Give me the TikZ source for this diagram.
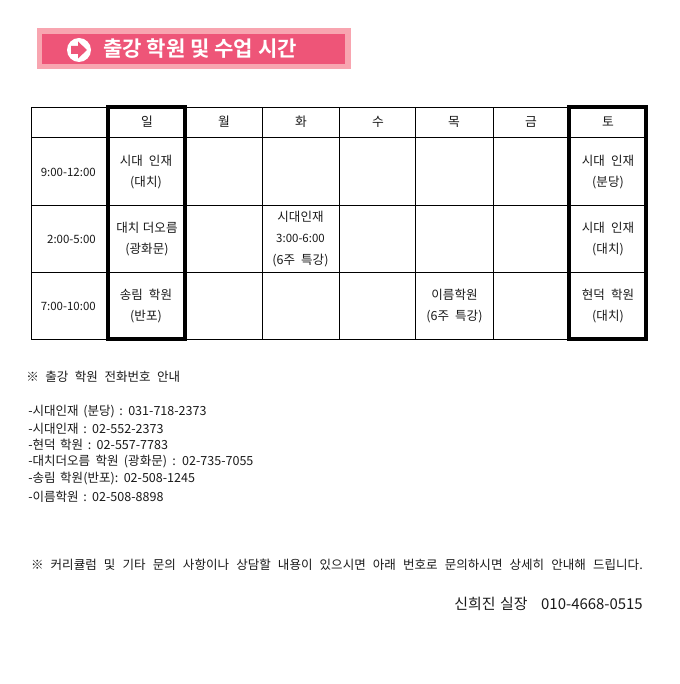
\documentclass[tikz,border=0pt]{standalone}
\usepackage{fontspec}
\setmainfont{Noto Sans CJK KR}
\newfontfamily\krbold{Noto Sans CJK KR Bold}
\definecolor{bannerout}{HTML}{F8A5B0}
\definecolor{bannerin}{HTML}{EE5578}
\definecolor{inktext}{HTML}{1A1A1A}
\newcommand{\pxfont}[1]{\fontsize{#1}{#1}\selectfont}
\tikzset{
  x=0.75pt,y=-0.75pt,
  cellline/.style={draw=black,line width=0.75pt},
  thickbox/.style={draw=black,line width=3pt},
  celltext/.style={inner sep=0,align=center,text=inktext,font=\pxfont{9.4pt},execute at begin node={\baselineskip=16pt\spaceskip=4.5pt}},
  timetext/.style={inner sep=0,anchor=east,text=inktext,font=\pxfont{8.6pt}},
  daytext/.style={inner sep=0,text=inktext,font=\pxfont{9.6pt}},
  leftnote/.style={inner sep=0,anchor=west,text=inktext,font=\pxfont{9.4pt},execute at begin node={\spaceskip=3.4pt}},
}
\begin{document}
\begin{tikzpicture}
\useasboundingbox (0,0) rectangle (680,684);
\fill[white] (0,0) rectangle (680,684);
% banner
\fill[bannerout] (37,28) rectangle (351,69);
\fill[bannerin] (42,34) rectangle (345,64);
\fill[white] (79,50) circle (12);
\fill[bannerin] (71,46) -- (78,46) -- (78,41.5) -- (87,50) -- (78,58.5) -- (78,54) -- (71,54) -- cycle;
\node[inner sep=0,anchor=west,text=white] (title) at (103,49) {\krbold\pxfont{15.8pt}출강 학원 및 수업 시간};
% table grid
\foreach \yy in {108,138,205,272,339} \draw[cellline] (31,\yy) -- (646,\yy);
\foreach \xx in {31,108,185,262,339,415,493,569,646} \draw[cellline] (\xx,108) -- (\xx,339);
\draw[thickbox] (108,107.5) rectangle (185,339);
\draw[thickbox] (569,107.5) rectangle (646,339);
% head
\node[daytext] (d1) at (147,122) {일};
\node[daytext] (d2) at (224,122) {월};
\node[daytext] (d3) at (301,122) {화};
\node[daytext] (d4) at (378,122) {수};
\node[daytext] (d5) at (454,122) {목};
\node[daytext] (d6) at (531,122) {금};
\node[daytext] (d7) at (608,122) {토};
% times
\node[timetext] (t1) at (96,172) {9:00-12:00};
\node[timetext] (t2) at (96,239) {2:00-5:00};
\node[timetext] (t3) at (96,306) {7:00-10:00};
% cells
\node[celltext] (c11) at (146,172) {시대 인재\\(대치)};
\node[celltext] (c21) at (147,239) {\spaceskip=2.6pt 대치 더오름\\(광화문)};
\node[celltext] (c31) at (146,306) {송림 학원\\(반포)};
\node[celltext] (c23) at (300.5,239) {\spaceskip=3pt 시대인재\\{\pxfont{8.6pt}3:00-6:00}\\(6주 특강)};
\node[celltext] (c35) at (454.5,306) {\spaceskip=3pt 이름학원\\(6주 특강)};
\node[celltext] (c17) at (608,172) {시대 인재\\(분당)};
\node[celltext] (c27) at (608,239) {시대 인재\\(대치)};
\node[celltext] (c37) at (608,306) {현덕 학원\\(대치)};
% notes
\node[leftnote] (n0) at (26,377) {\spaceskip=4.9pt ※ 출강 학원 전화번호 안내};
\node[leftnote] (n1) at (28,411.5) {-시대인재 (분당) : 031-718-2373};
\node[leftnote] (n2) at (28,428.5) {-시대인재 : 02-552-2373};
\node[leftnote] (n3) at (28,445) {-현덕 학원 : 02-557-7783};
\node[leftnote] (n4) at (28,462) {\spaceskip=4pt -대치더오름 학원 (광화문) : 02-735-7055};
\node[leftnote] (n5) at (28,479) {-송림 학원(반포): 02-508-1245};
\node[leftnote] (n6) at (28,497) {-이름학원 : 02-508-8898};
\node[leftnote,anchor=east] (n7) at (643,565) {\spaceskip=5.35pt ※ 커리큘럼 및 기타 문의 사항이나 상담할 내용이 있으시면 아래 번호로 문의하시면 상세히 안내해 드립니다.};
\node[leftnote,anchor=east,font=\pxfont{11.2pt}] (n8) at (643,604) {\spaceskip=3.4pt 신희진 실장 \ \ 010-4668-0515};
\end{tikzpicture}
\end{document}
